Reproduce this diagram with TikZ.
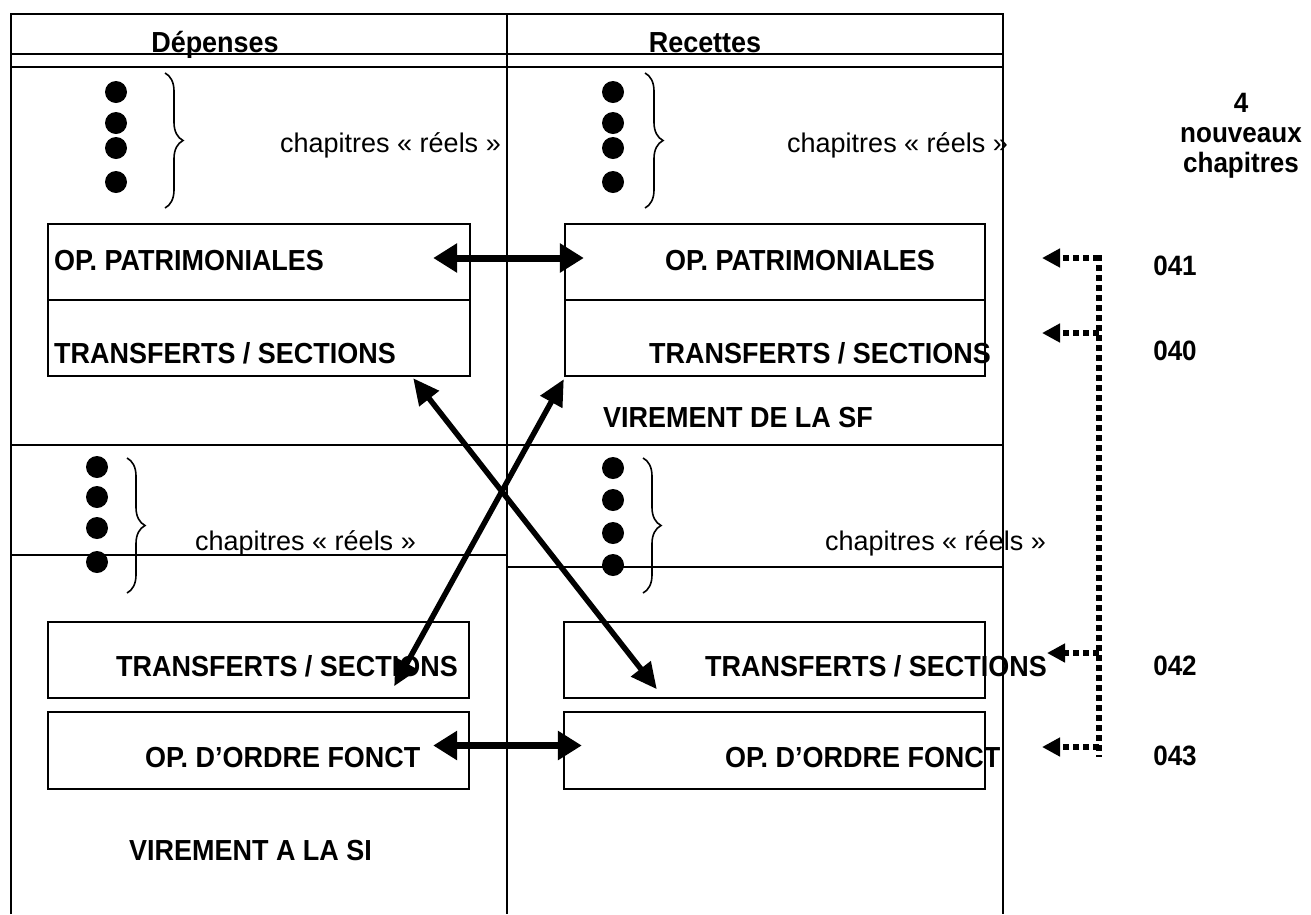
\documentclass[tikz,border=0pt]{standalone}
\usepackage{fontspec}
\setmainfont{Liberation Sans}
\newfontfamily\condbold{Liberation Sans}[FakeStretch=0.93,UprightFont=* Bold]
\usetikzlibrary{arrows.meta,decorations.pathreplacing}
\begin{document}
\begin{tikzpicture}[x=1pt,y=-1pt,
  frame/.style={line width=2.2pt},
  box/.style={draw, line width=2.4pt, inner sep=0pt},
  lab/.style={font=\fontsize{29}{34}\condbold, anchor=base west, inner sep=0pt},
  reg/.style={font=\fontsize{27}{32}\selectfont, anchor=base west, inner sep=0pt},
  num/.style={font=\fontsize{28}{30}\condbold, anchor=base, inner sep=0pt},
  dbl/.style={{Triangle[length=24pt,width=28pt]}-{Triangle[length=24pt,width=28pt]}, line width=7pt},
  diag/.style={{Triangle[length=26pt,width=24pt]}-{Triangle[length=26pt,width=24pt]}, line width=5.5pt},
  dotline/.style={line width=6pt, dash pattern=on 6pt off 4pt},
  dotarrow/.style={dotline, -{Triangle[length=18pt,width=18pt]}},
  curly/.style={decorate, decoration={brace, amplitude=18pt}, line width=1.6pt},
  dot/.style={fill=black}
]
\useasboundingbox (0,0) rectangle (1311,914);
\fill[white] (0,0) rectangle (1311,914);

% table frame
\draw[frame] (11,914) -- (11,14) -- (1003,14) -- (1003,914);
\draw[line width=1.8pt] (507,14) -- (507,914);
\draw[frame] (11,54) -- (1003,54);
\draw[frame] (11,67) -- (1003,67);
\draw[frame] (11,445) -- (1003,445);
\draw[frame] (11,555) -- (507,555);
\draw[frame] (507,567) -- (1003,567);

% headers
\node[font=\fontsize{29}{34}\condbold, anchor=base, inner sep=0pt] (hdep) at (215,52) {Dépenses};
\node[font=\fontsize{29}{34}\condbold, anchor=base, inner sep=0pt] (hrec) at (705,52) {Recettes};

% bullets and braces
\foreach \y in {92,123,148,182} { \fill[dot] (116,\y) circle (11); \fill[dot] (613,\y) circle (11); }
\foreach \y in {467,497,528,562} { \fill[dot] (97,\y) circle (11); }
\foreach \y in {468,500,533,565} { \fill[dot] (613,\y) circle (11); }
\draw[curly] (165,73) -- (165,208);
\draw[curly] (645,73) -- (645,208);
\draw[curly] (127,458) -- (127,593);
\draw[curly] (643,458) -- (643,593);

\node[reg] (cr1) at (280,152) {chapitres « réels »};
\node[reg] (cr2) at (787,152) {chapitres « réels »};
\node[reg] (cr3) at (195,550) {chapitres « réels »};
\node[reg] (cr4) at (825,550) {chapitres « réels »};

% boxes
\node[box, minimum width=422pt, minimum height=76pt] (lpat) at (259,262) {};
\node[box, minimum width=422pt, minimum height=76pt] (ltr) at (259,338) {};
\node[box, minimum width=420pt, minimum height=76pt] (rpat) at (775,262) {};
\node[box, minimum width=420pt, minimum height=76pt] (rtr) at (775,338) {};
\node[box, minimum width=421pt, minimum height=76pt] (ltr2) at (258.5,660) {};
\node[box, minimum width=421pt, minimum height=77pt] (lfon) at (258.5,750.5) {};
\node[box, minimum width=421pt, minimum height=76pt] (rtr2) at (774.5,660) {};
\node[box, minimum width=421pt, minimum height=77pt] (rfon) at (774.5,750.5) {};

% box labels
\node[lab] (tlpat) at (54,270) {OP. PATRIMONIALES};
\node[lab] (tltr) at (54,363) {TRANSFERTS / SECTIONS};
\node[lab] (trpat) at (665,270) {OP. PATRIMONIALES};
\node[lab] (trtr) at (649,363) {TRANSFERTS / SECTIONS};
\node[lab] (tvsf) at (603,427) {VIREMENT DE LA SF};
\node[lab] (tltr2) at (116,676) {TRANSFERTS / SECTIONS};
\node[lab] (trtr2) at (705,676) {TRANSFERTS / SECTIONS};
\node[lab] (tlfon) at (145,767) {OP. D’ORDRE FONCT};
\node[lab] (trfon) at (725,767) {OP. D’ORDRE FONCT};
\node[lab] (tvsi) at (129,860) {VIREMENT A LA SI};

% arrows
\draw[dbl] ([xshift=-38pt,yshift=4pt]lpat.east) -- ([xshift=20pt,yshift=4pt]rpat.west);
\draw[dbl] ([xshift=-37pt,yshift=5pt]lfon.east) -- ([xshift=19pt,yshift=5pt]rfon.west);
\draw[diag] ([xshift=-58pt,yshift=-1pt]ltr.south east) -- ([xshift=94pt,yshift=10pt]rtr2.south west);
\draw[diag] ([yshift=-2pt]rtr.south west) -- ([xshift=-76pt,yshift=13pt]ltr2.south east);

% dotted connector
\coordinate (vtop) at (1099,255);
\coordinate (vbot) at (1099,757);
\coordinate (j1) at (1099,258);
\coordinate (j2) at (1099,333);
\coordinate (j3) at (1099,653);
\coordinate (j4) at (1099,747);
\coordinate (t1) at (1042,258);
\coordinate (t2) at (1042,333);
\coordinate (t3) at (1047,653);
\coordinate (t4) at (1042,747);
\draw[dotline] (vtop) -- (vbot);
\draw[dotarrow] (j1) -- (t1);
\draw[dotarrow] (j2) -- (t2);
\draw[dotarrow] (j3) -- (t3);
\draw[dotarrow] (j4) -- (t4);

\node[num] (n041) at (1175,275) {041};
\node[num] (n040) at (1175,360) {040};
\node[num] (n042) at (1175,675) {042};
\node[num] (n043) at (1175,765) {043};

\node[font=\fontsize{28}{30}\condbold, align=center, anchor=north, inner sep=0pt] (nouv) at (1241,93) {4\\nouveaux\\chapitres};
\end{tikzpicture}
\end{document}
